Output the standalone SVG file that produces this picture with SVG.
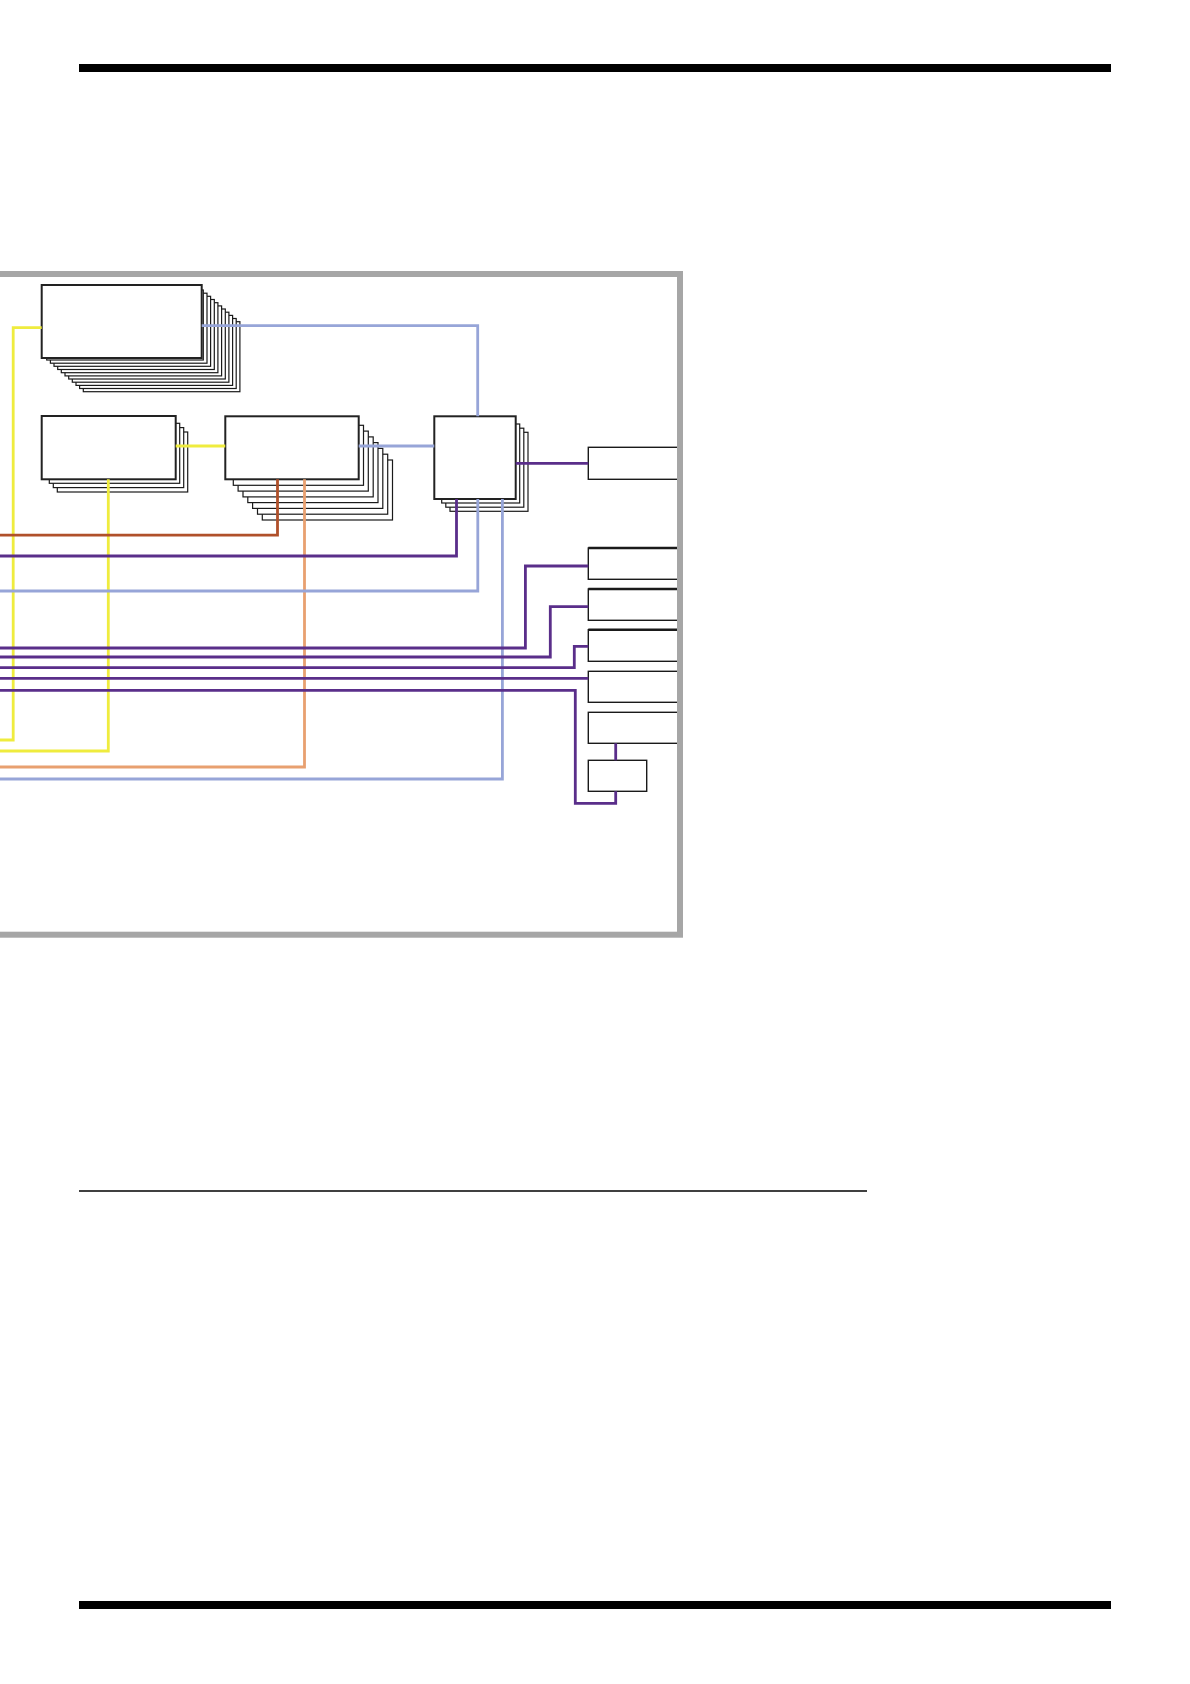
<svg xmlns="http://www.w3.org/2000/svg" width="1190" height="1684" viewBox="0 0 1190 1684">
  <style>
    .front { fill: #ffffff; stroke: #222222; stroke-width: 2; }
    .copy { fill: #ffffff; stroke: #1a1a1a; stroke-width: 1.2; }
    .box { fill: #ffffff; stroke: #1a1a1a; stroke-width: 1.4; }
    .topedge { stroke: #1a1a1a; stroke-width: 2.4; fill: none; }
    .wire { fill: none; stroke-width: 2.8; stroke-linejoin: miter; }
    .yellow { stroke: #efec3e; }
    .blue { stroke: #97a5d8; }
    .purple { stroke: #5a2e8a; }
    .brown { stroke: #b0502a; }
    .salmon { stroke: #e8a070; }
  </style>
  <rect width="1190" height="1684" fill="#ffffff"/>

  <g id="page-rules">
    <rect x="79" y="64" width="1032" height="8" fill="#000000"/>
    <line x1="79" y1="1191" x2="867" y2="1191" stroke="#000000" stroke-width="1.3"/>
    <rect x="79" y="1601" width="1032" height="8" fill="#000000"/>
  </g>

  <g id="node-a">
    <rect class="copy" x="83.3" y="321.7" width="156.6" height="70"/>
    <rect class="copy" x="79.6" y="318.5" width="156.6" height="70"/>
    <rect class="copy" x="76.0" y="315.4" width="156.6" height="70"/>
    <rect class="copy" x="72.3" y="312.2" width="156.6" height="70"/>
    <rect class="copy" x="68.7" y="309.0" width="156.6" height="70"/>
    <rect class="copy" x="65.0" y="305.9" width="156.6" height="70"/>
    <rect class="copy" x="61.3" y="302.7" width="156.6" height="70"/>
    <rect class="copy" x="57.7" y="299.5" width="156.6" height="70"/>
    <rect class="copy" x="54.0" y="296.3" width="156.6" height="70"/>
    <rect class="copy" x="50.4" y="293.2" width="156.6" height="70"/>
    <rect class="copy" x="46.7" y="290.0" width="156.6" height="70"/>
    <rect class="front" x="41.7" y="285" width="160" height="73"/>
  </g>

  <g id="node-b">
    <rect class="copy" x="57.3" y="432" width="130.4" height="60"/>
    <rect class="copy" x="53.3" y="427.6" width="130.4" height="60"/>
    <rect class="copy" x="49.3" y="423.3" width="130.4" height="60"/>
    <rect class="front" x="41.7" y="416" width="134" height="63.3"/>
  </g>

  <g id="node-c">
    <rect class="copy" x="262.3" y="460.0" width="130.2" height="60"/>
    <rect class="copy" x="257.5" y="454.2" width="130.2" height="60"/>
    <rect class="copy" x="252.6" y="448.4" width="130.2" height="60"/>
    <rect class="copy" x="247.8" y="442.6" width="130.2" height="60"/>
    <rect class="copy" x="243.0" y="436.9" width="130.2" height="60"/>
    <rect class="copy" x="238.1" y="431.1" width="130.2" height="60"/>
    <rect class="copy" x="233.3" y="425.3" width="130.2" height="60"/>
    <rect class="front" x="225.3" y="416.3" width="133.4" height="63"/>
  </g>

  <g id="node-d">
    <rect class="copy" x="450" y="432.3" width="78" height="79"/>
    <rect class="copy" x="445.8" y="428.2" width="78" height="79"/>
    <rect class="copy" x="441.7" y="424" width="78" height="79"/>
    <rect class="front" x="434.3" y="416.3" width="81.4" height="82.7"/>
  </g>

  <g id="node-e1">
    <rect class="box" x="588.3" y="447.3" width="92" height="32"/>
  </g>
  <g id="node-e2">
    <rect class="box" x="588.3" y="548" width="92" height="31.3"/>
    <line class="topedge" x1="588.3" y1="548" x2="680" y2="548"/>
  </g>
  <g id="node-e3">
    <rect class="box" x="588.3" y="589" width="92" height="31.3"/>
    <line class="topedge" x1="588.3" y1="589" x2="680" y2="589"/>
  </g>
  <g id="node-e4">
    <rect class="box" x="588.3" y="629.7" width="92" height="31.6"/>
    <line class="topedge" x1="588.3" y1="629.7" x2="680" y2="629.7"/>
  </g>
  <g id="node-e5">
    <rect class="box" x="588.3" y="671.3" width="92" height="31"/>
  </g>
  <g id="node-e6">
    <rect class="box" x="588.3" y="712.3" width="92" height="31"/>
  </g>
  <g id="node-e7">
    <rect class="box" x="588.3" y="760.3" width="58.4" height="31"/>
  </g>

  <g id="connectors">
    <path class="wire yellow" d="M41.7 327.7 H13.2 V740 H-10"/>
    <path class="wire yellow" d="M175.7 446 H225.3"/>
    <path class="wire yellow" d="M108.3 479.3 V751 H-10"/>
    <path class="wire blue" d="M201.7 325.7 H477.7 V416.3"/>
    <path class="wire blue" d="M358.7 446 H434.3"/>
    <path class="wire brown" d="M277.5 479.3 V535.2 H-10"/>
    <path class="wire salmon" d="M304.5 479.3 V767 H-10"/>
    <path class="wire purple" d="M515.7 463.3 H588.3"/>
    <path class="wire purple" d="M456.5 499 V556 H-10"/>
    <path class="wire blue" d="M477.8 499 V591 H-10"/>
    <path class="wire blue" d="M502.4 499 V779 H-10"/>
    <path class="wire purple" d="M588.3 566 H525.4 V648 H-10"/>
    <path class="wire purple" d="M588.3 606.7 H550.3 V657 H-10"/>
    <path class="wire purple" d="M588.3 646.3 H574.3 V667.7 H-10"/>
    <path class="wire purple" d="M588.3 678.3 H-10"/>
    <path class="wire purple" d="M-10 690.3 H575.3 V803.3 H615.7 V791.3"/>
    <path class="wire purple" d="M615.7 743.3 V760.3"/>
  </g>

  <g id="frame">
    <rect x="-20" y="274" width="700" height="660.7" fill="none" stroke="#a6a6a6" stroke-width="6"/>
  </g>
</svg>
